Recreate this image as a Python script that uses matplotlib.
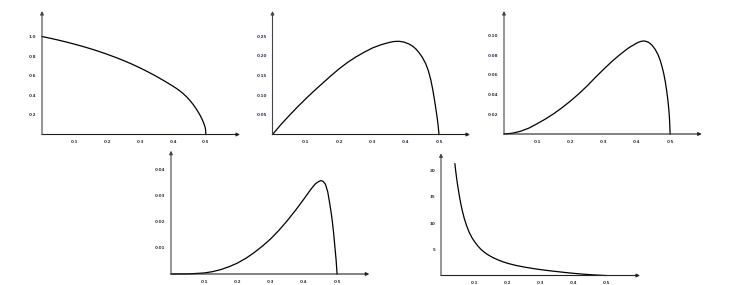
import matplotlib
matplotlib.use("Agg")
import matplotlib.pyplot as plt

# curve readings, one list per panel
x1 = [0, 0.025, 0.05, 0.075, 0.1, 0.125, 0.15, 0.175, 0.2, 0.225, 0.25, 0.275, 0.3, 0.325,
      0.35, 0.375, 0.4, 0.41, 0.42, 0.43, 0.44, 0.45, 0.46, 0.47, 0.48, 0.486, 0.49, 0.494,
      0.497, 0.499, 0.5]
y1 = [1.0, 0.982, 0.963, 0.943, 0.921, 0.898, 0.873, 0.846, 0.817, 0.786, 0.753, 0.717, 0.678, 0.636,
      0.591, 0.543, 0.492, 0.47, 0.446, 0.419, 0.388, 0.352, 0.311, 0.264, 0.21, 0.172, 0.143, 0.11,
      0.08, 0.05, 0.0]

x2 = [0, 0.025, 0.05, 0.075, 0.1, 0.125, 0.15, 0.175, 0.2, 0.225, 0.25, 0.275, 0.3, 0.325, 0.35,
      0.365, 0.38, 0.395, 0.41, 0.42, 0.43, 0.44, 0.45, 0.46, 0.468, 0.475, 0.481, 0.486, 0.49,
      0.494, 0.497, 0.5]
y2 = [0, 0.025, 0.048, 0.07, 0.091, 0.111, 0.13, 0.149, 0.167, 0.183, 0.197, 0.209, 0.22, 0.228, 0.234,
      0.2365, 0.237, 0.235, 0.23, 0.225, 0.218, 0.208, 0.196, 0.18, 0.162, 0.14, 0.115, 0.09, 0.068,
      0.045, 0.025, 0.0]

x3 = [0, 0.025, 0.05, 0.075, 0.1, 0.125, 0.15, 0.175, 0.2, 0.225, 0.25, 0.275, 0.3, 0.325, 0.35,
      0.375, 0.4, 0.41, 0.418, 0.425, 0.435, 0.445, 0.455, 0.463, 0.47, 0.476, 0.481, 0.486,
      0.49, 0.493, 0.496, 0.498, 0.5]
y3 = [0, 0.0008, 0.0028, 0.006, 0.0105, 0.0153, 0.0207, 0.0268, 0.0335, 0.0408, 0.0488, 0.0575, 0.0658,
      0.0738, 0.081, 0.0875, 0.0925, 0.0939, 0.0945, 0.0944, 0.0932, 0.0905, 0.086, 0.081, 0.075,
      0.068, 0.061, 0.052, 0.043, 0.035, 0.025, 0.016, 0.0]

x4 = [0, 0.05, 0.075, 0.1, 0.125, 0.15, 0.175, 0.2, 0.225, 0.25, 0.275, 0.3, 0.325, 0.35, 0.375,
      0.4, 0.415, 0.425, 0.435, 0.445, 0.452, 0.458, 0.465, 0.472, 0.478, 0.484, 0.489, 0.493,
      0.497, 0.5]
y4 = [0, 0.00005, 0.0002, 0.0004, 0.0009, 0.0017, 0.0028, 0.0042, 0.006, 0.0082, 0.0107, 0.0135,
      0.0168, 0.0205, 0.0245, 0.0288, 0.0315, 0.0332, 0.0347, 0.0356, 0.0359, 0.0356, 0.0345,
      0.0315, 0.027, 0.022, 0.0165, 0.011, 0.0055, 0.0]

x5 = [0.042, 0.045, 0.049, 0.054, 0.059, 0.064, 0.07, 0.077, 0.085, 0.093, 0.1, 0.11, 0.12, 0.13,
      0.141, 0.155, 0.171, 0.186, 0.202, 0.225, 0.253, 0.28, 0.304, 0.33, 0.355, 0.38, 0.404, 0.43,
      0.457, 0.48, 0.5]
y5 = [21.3, 19.7, 17.8, 15.8, 14.0, 12.5, 11.0, 9.6, 8.3, 7.3, 6.6, 5.75, 5.05, 4.5,
      4.0, 3.5, 3.02, 2.65, 2.32, 1.95, 1.6, 1.32, 1.1, 0.9, 0.72, 0.55, 0.4, 0.26,
      0.14, 0.06, 0.0]

xticks = [0.1, 0.2, 0.3, 0.4, 0.5]
yticks1 = [0.2, 0.4, 0.6, 0.8, 1.0]
yticks2 = [0.05, 0.10, 0.15, 0.20, 0.25]
yticks3 = [0.02, 0.04, 0.06, 0.08, 0.10]
yticks4 = [0.01, 0.02, 0.03, 0.04]
yticks5 = [5, 10, 15, 20]

W, H = 733, 285
fig = plt.figure(figsize=(W / 100, H / 100), dpi=100)
fig.patch.set_facecolor("white")


def panel(left, base, right, top, xmax, ymax, xs, ys, yticks, yfmt):
    # pixel box -> figure fraction
    ax = fig.add_axes([left / W, (H - base) / H, (right - left) / W, (base - top) / H])
    ax.plot(xs, ys, color="black", lw=0.9, clip_on=False, solid_joinstyle="round")
    ax.set_xlim(0, xmax)
    ax.set_ylim(0, ymax)
    for s in ax.spines.values():
        s.set_visible(False)
    ax.patch.set_alpha(0)
    ax.annotate("", xy=(1, 0), xytext=(0, 0), xycoords="axes fraction",
                arrowprops=dict(arrowstyle="-|>", lw=0.8, color="#222222",
                                mutation_scale=5, shrinkA=0, shrinkB=0))
    ax.annotate("", xy=(0, 1), xytext=(0, 0), xycoords="axes fraction",
                arrowprops=dict(arrowstyle="-|>", lw=0.8, color="#444444",
                                mutation_scale=5, shrinkA=0, shrinkB=0))
    ax.set_xticks(xticks)
    ax.set_xticklabels([f"{v:.1f}" for v in xticks])
    ax.set_yticks(yticks)
    ax.set_yticklabels([yfmt.format(v) for v in yticks])
    ax.tick_params(length=0, labelsize=3, colors="#33334d", pad=4)
    for lab in ax.get_xticklabels() + ax.get_yticklabels():
        lab.set_fontweight("bold")
    return ax


panel(42, 134.5, 240, 11, 0.604, 1.26, x1, y1, yticks1, "{:.1f}")
panel(272.5, 134.5, 470, 11, 0.593, 0.314, x2, y2, yticks2, "{:.2f}")
panel(504, 134, 701.7, 11, 0.595, 0.125, x3, y3, yticks3, "{:.2f}")
panel(171, 274, 369.3, 150.7, 0.597, 0.0474, x4, y4, yticks4, "{:.2f}")
panel(441, 275.5, 640, 153.3, 0.603, 23.3, x5, y5, yticks5, "{:d}")

fig.savefig("out.png", dpi=100, facecolor="white")
